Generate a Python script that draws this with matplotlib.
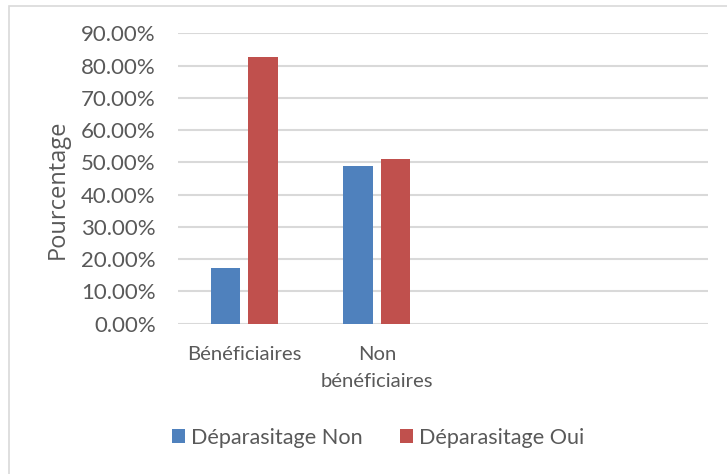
import matplotlib
matplotlib.use("Agg")
import matplotlib.pyplot as plt
import numpy as np
from matplotlib.patches import Rectangle

categories = ["Bénéficiaires", "Non\nbénéficiaires", "", ""]
series_names = ["Déparasitage Non", "Déparasitage Oui"]
non_values = [0.174, 0.490, np.nan, np.nan]
oui_values = [0.826, 0.510, np.nan, np.nan]
yticks = [0.0, 0.1, 0.2, 0.3, 0.4, 0.5, 0.6, 0.7, 0.8, 0.9]

plt.rcParams['font.family'] = ['Lato', 'DejaVu Sans']
txt = '#595959'

fig = plt.figure(figsize=(7.27, 4.74), dpi=100)
ax = fig.add_axes([178/727, 1-323.7/474, 530/727, (323.7-33.3)/474])

x = np.arange(len(categories))
w = 0.222
off = 0.143
ax.bar(x - off, non_values, w, color='#4F81BD', label=series_names[0], zorder=3)
ax.bar(x + off, oui_values, w, color='#C0504D', label=series_names[1], zorder=3)

ax.set_xlim(-0.5, 3.5)
ax.set_ylim(0, 0.9)
ax.set_yticks(yticks)
ax.set_yticklabels([f"{v*100:.2f}%" for v in yticks], fontsize=16, color=txt)
ax.set_xticks(x)
ax.set_xticklabels(categories, fontsize=14.6, color=txt, linespacing=1.7)
ax.tick_params(axis='both', length=0)
ax.tick_params(axis='x', pad=16)
ax.tick_params(axis='y', pad=16)
ax.grid(axis='y', color='#d9d9d9', linewidth=1.5, zorder=0)
for s in ax.spines.values():
    s.set_visible(False)
ax.set_ylabel("Pourcentage", fontsize=17, color=txt, family=['Open Sans', 'DejaVu Sans'])
ax.yaxis.set_label_coords(-0.204, 0.464)

fig.legend(loc='center', bbox_to_anchor=(0.52, 1-438/474), ncol=2, frameon=False,
           fontsize=15.6, handlelength=0.6, handleheight=0.6, handletextpad=0.3,
           columnspacing=1.7, labelcolor=txt)

fig.patches.append(Rectangle((9/727, -0.1), 1.2, 1 - 6/474 + 0.1, transform=fig.transFigure,
                             fill=False, edgecolor='#d9d9d9', linewidth=1.2))

fig.savefig("out.png", dpi=100)
